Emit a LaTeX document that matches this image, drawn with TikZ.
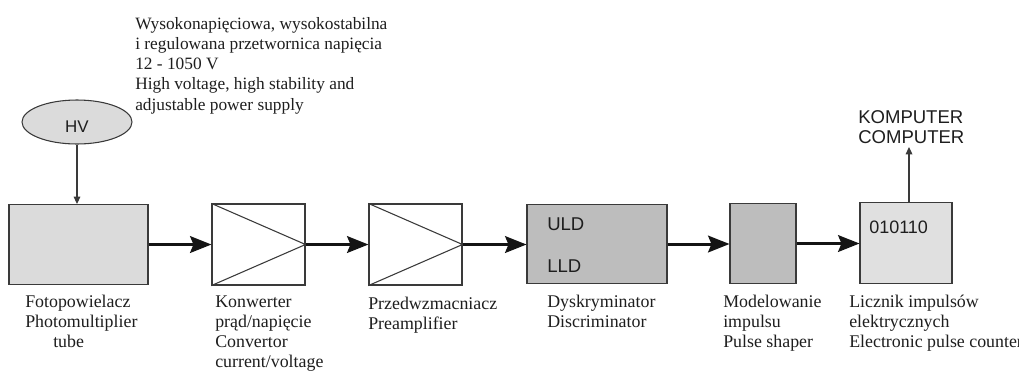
\documentclass[tikz,border=0pt]{standalone}
\usepackage{fontspec}
\setmainfont{Liberation Serif}
\newfontfamily\arialfont{Liberation Sans}
\usetikzlibrary{arrows.meta,shapes.geometric}
\definecolor{txt}{HTML}{1E1E1E}
\definecolor{edge}{HTML}{3A3A3A}
\definecolor{lightfill}{HTML}{DBDBDB}
\definecolor{midfill}{HTML}{BDBDBD}
\definecolor{cntfill}{HTML}{E0E0E0}
\newcommand{\mlines}[1]{\begin{tabular}[t]{@{}l@{}}#1\end{tabular}}
\begin{document}
\begin{tikzpicture}[x=0.75pt,y=-0.75pt,
  box/.style={draw=edge, line width=0.8pt, inner sep=0pt, rectangle},
  serif/.style={text=txt, inner sep=0pt, anchor=base west, font=\fontsize{13.4}{15}\selectfont},
  sans/.style={text=txt, inner sep=0pt, anchor=base west, font=\arialfont\fontsize{13.9}{15}\selectfont},
  bigarrow/.style={draw=black!92, line width=2.25pt, -{Stealth[length=16pt,width=12.5pt,inset=2.5pt]}},
  thinarrow/.style={draw=edge, line width=0.8pt, -{Triangle[length=5.5pt,width=5pt]}}]
\useasboundingbox (0,0) rectangle (1019,372);
\fill[white] (0,0) rectangle (1019,372);

% top description
\node[serif, font=\fontsize{13}{15.2}\selectfont] (desc) at (135,29) {\mlines{Wysokonapięciowa, wysokostabilna\\ i regulowana przetwornica napięcia\\ 12 - 1050 V\\ High voltage, high stability and\\ adjustable power supply}};

% HV ellipse
\node[ellipse, draw=edge, line width=0.8pt, fill=lightfill, minimum width=82.5pt, minimum height=33pt, inner sep=0pt,
      text=txt, font=\arialfont\fontsize{12.7}{14}\selectfont, text height=15pt, text depth=0pt] (hv) at (77,122) {HV};

% boxes
\node[box, fill=lightfill, minimum width=104.25pt, minimum height=60pt] (pmt) at (78.5,244.5) {};
\node[box, fill=white, minimum width=69.75pt, minimum height=60.75pt] (conv) at (258.5,244.5) {};
\node[box, fill=white, minimum width=69.75pt, minimum height=60.75pt] (pre) at (415.5,244.5) {};
\node[box, fill=midfill, minimum width=105pt, minimum height=59.25pt] (disc) at (597,244) {};
\node[box, fill=midfill, minimum width=49.5pt, minimum height=60pt] (shp) at (763,243.5) {};
\node[box, fill=cntfill, minimum width=69pt, minimum height=60.75pt] (cnt) at (906,243) {};

% amplifier triangles
\draw[edge, line width=0.8pt] (conv.north west) -- (conv.east) -- (conv.south west);
\draw[edge, line width=0.8pt] (pre.north west) -- (pre.east) -- (pre.south west);

% texts inside boxes
\node[sans] (uld) at (547,230) {ULD};
\node[sans] (lld) at (547,272) {LLD};
\node[sans, font=\arialfont\fontsize{13.5}{15}\selectfont] (bits) at (869,233) {010110};

% connectors
\draw[thinarrow] (hv.south) -- (hv.south |- pmt.north);
\draw[bigarrow] (pmt.east |- conv.west) -- (conv.west);
\draw[bigarrow] (conv.east) -- (pre.west);
\draw[bigarrow] (pre.east) -- (disc.west |- pre.east);
\draw[bigarrow] (disc.east) -- (shp.west |- disc.east);
\draw[bigarrow] (shp.east) -- (cnt.west |- shp.east);
\coordinate (comptip) at (909,147);
\draw[thinarrow] (cnt.north -| comptip) -- (comptip);

% computer label
\node[sans] (comp) at (858,123) {\mlines{KOMPUTER\\ COMPUTER}};

% labels below boxes
\node[serif] (lpmt) at (25,307) {\mlines{Fotopowielacz\\ Photomultiplier\\ \hspace*{21pt}tube}};
\node[serif] (lconv) at (215,307) {\mlines{Konwerter\\ prąd/napięcie\\ Convertor\\ current/voltage}};
\node[serif] (lpre) at (368,309) {\mlines{Przedwzmacniacz\\ Preamplifier}};
\node[serif] (ldisc) at (547,307) {\mlines{Dyskryminator\\ Discriminator}};
\node[serif] (lshp) at (723,307) {\mlines{Modelowanie\\ impulsu\\ Pulse shaper}};
\node[serif] (lcnt) at (849,307) {\mlines{Licznik impulsów\\ elektrycznych\\ Electronic pulse counter}};
\end{tikzpicture}
\end{document}
